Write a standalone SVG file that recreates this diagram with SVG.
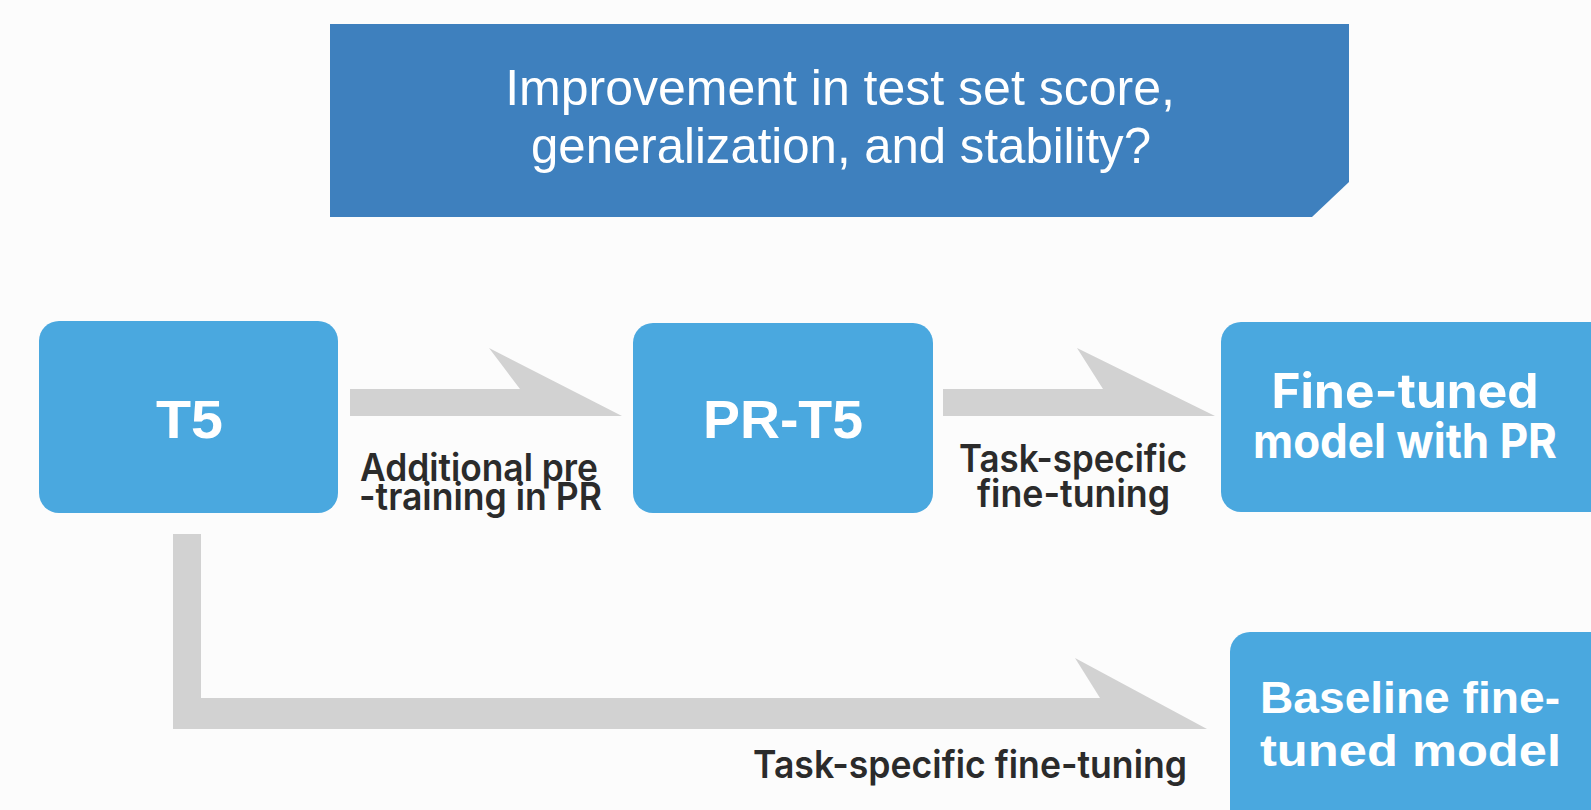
<svg xmlns="http://www.w3.org/2000/svg" width="1591" height="810" viewBox="0 0 1591 810">
  <style>
    .bg { fill: #fcfcfc; }
    .banner { fill: #3e80be; }
    .box { fill: #4aa8df; }
    .arrow { fill: #d2d2d2; }
    .q { font-family: "Liberation Sans", Arial, sans-serif; font-size: 50px; fill: #ffffff; text-anchor: middle; }
    .node-a { font-family: "Liberation Sans", Arial, sans-serif; font-weight: 700; fill: #ffffff; }
    .node-b { font-family: Inter, "Noto Sans", sans-serif; font-weight: 700; fill: #ffffff; text-anchor: middle; }
    .lbl { font-family: Inter, "Noto Sans", sans-serif; font-weight: 600; font-size: 38px; fill: #2b2b2b; }
  </style>

  <rect class="bg" x="0" y="0" width="1591" height="810"/>

  <!-- question banner with clipped lower-right corner -->
  <g id="question">
    <polygon class="banner" points="330,24 1349,24 1349,182 1312,217 330,217"/>
    <text class="q" x="840" y="105">Improvement in test set score,</text>
    <text class="q" x="841" y="163" textLength="620" lengthAdjust="spacingAndGlyphs">generalization, and stability?</text>
  </g>

  <!-- connectors and their labels -->
  <g id="connectors">
    <polygon class="arrow" points="350,389 520,389 489,348 622,416 350,416"/>
    <polygon class="arrow" points="943,389 1103,389 1077,348 1215,416 943,416"/>
    <polygon class="arrow" points="173,534 201,534 201,698 1100,698 1075,658 1207,729 173,729"/>
    <text class="lbl" x="360" y="481" textLength="238" lengthAdjust="spacingAndGlyphs">Additional pre</text>
    <text class="lbl" x="359" y="510" textLength="243" lengthAdjust="spacingAndGlyphs">-training in PR</text>
    <text class="lbl" x="959" y="472" textLength="228" lengthAdjust="spacingAndGlyphs">Task-specific</text>
    <text class="lbl" x="977" y="507" textLength="193" lengthAdjust="spacingAndGlyphs">fine-tuning</text>
    <text class="lbl" x="753" y="778" textLength="434" lengthAdjust="spacingAndGlyphs">Task-specific fine-tuning</text>
  </g>

  <g id="node-t5">
    <rect class="box" x="39" y="321" width="299" height="192" rx="20"/>
    <text class="node-a" x="156" y="438" font-size="54" textLength="67" lengthAdjust="spacingAndGlyphs">T5</text>
  </g>

  <g id="node-pr-t5">
    <rect class="box" x="633" y="323" width="300" height="190" rx="20"/>
    <text class="node-a" x="703" y="438" font-size="54" textLength="160" lengthAdjust="spacingAndGlyphs">PR-T5</text>
  </g>

  <g id="node-finetuned-pr">
    <rect class="box" x="1221" y="322" width="400" height="190" rx="20"/>
    <text class="node-b" x="1405" y="408" font-size="48" textLength="267" lengthAdjust="spacingAndGlyphs">Fine-tuned</text>
    <text class="node-b" x="1405" y="458" font-size="48" textLength="304" lengthAdjust="spacingAndGlyphs">model with PR</text>
  </g>

  <g id="node-baseline">
    <rect class="box" x="1230" y="632" width="400" height="220" rx="20"/>
    <text class="node-a" x="1260" y="713" font-size="45" textLength="300" lengthAdjust="spacingAndGlyphs">Baseline fine-</text>
    <text class="node-a" x="1260" y="766" font-size="45" textLength="301" lengthAdjust="spacingAndGlyphs">tuned model</text>
  </g>
</svg>
